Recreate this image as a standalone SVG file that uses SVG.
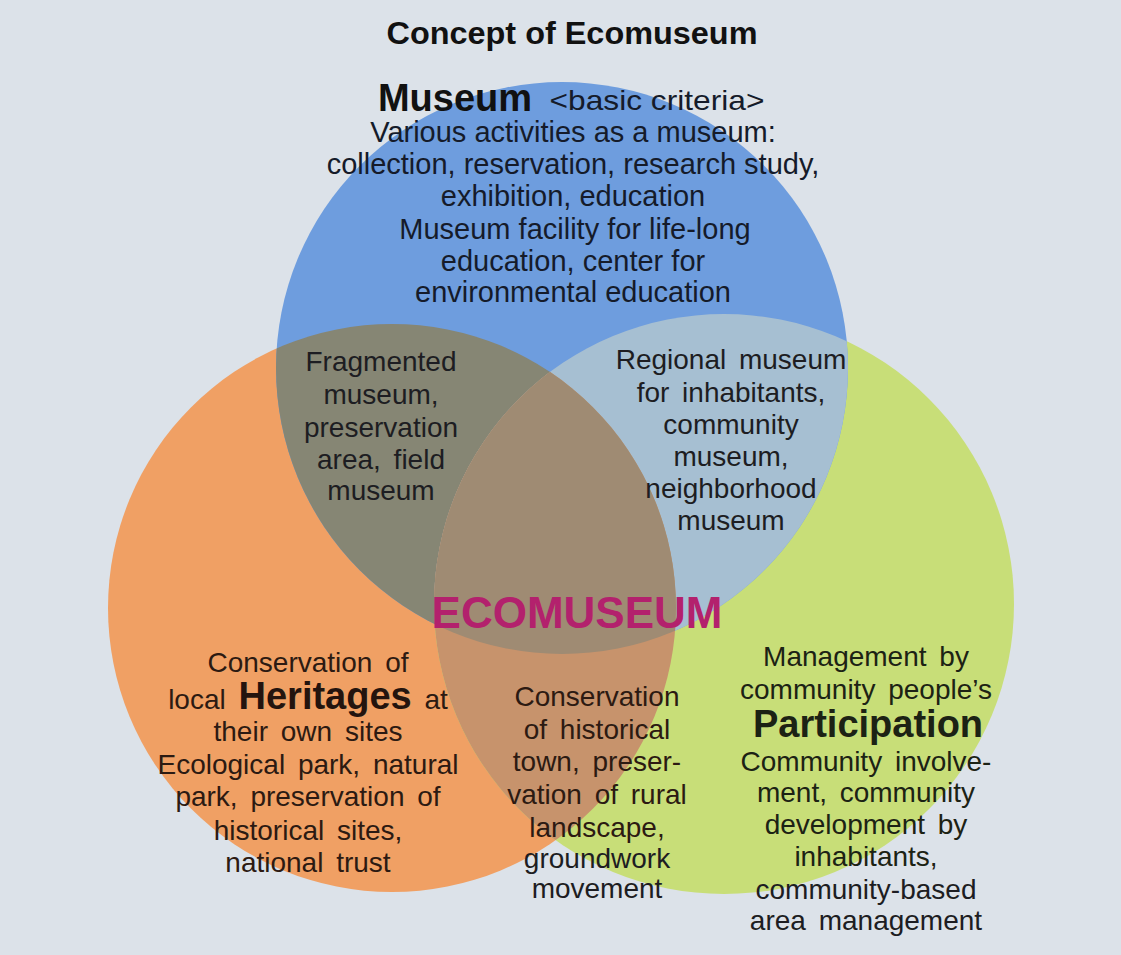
<svg xmlns="http://www.w3.org/2000/svg" width="1121" height="955" viewBox="0 0 1121 955">
<style>
.t{font-family:"Liberation Sans",Arial,Helvetica,sans-serif;text-anchor:middle;fill:#1d1d22}
.m{font-size:29px;fill:#151b2a}
.b{font-size:28px;word-spacing:5px}
.bo{fill:#2c1a12}
.gr{fill:#1c2214}
.big{font-weight:bold;font-size:38px}
.eco{font-size:44px;font-weight:bold;fill:#b3216d}
.title{font-size:31px;font-weight:bold;fill:#111}
</style>
<defs>
<clipPath id="cO"><circle cx="392" cy="608" r="284"/></clipPath>
<clipPath id="cG"><circle cx="724" cy="604" r="290"/></clipPath>
</defs>
<rect width="1121" height="955" fill="#dce2e9"/>
<text class="t title" x="572" y="44" textLength="371" lengthAdjust="spacingAndGlyphs">Concept of Ecomuseum</text>
<g id="heritage-circle"><circle cx="392" cy="608" r="284" fill="#f0a064"/></g>
<g id="participation-circle"><circle cx="724" cy="604" r="290" fill="#c8de78"/></g>
<g id="museum-circle"><circle cx="562" cy="368" r="286" fill="#6e9dde"/></g>
<g id="overlap-museum-heritage"><circle cx="562" cy="368" r="286" fill="#868674" clip-path="url(#cO)"/></g>
<g id="overlap-museum-participation"><circle cx="562" cy="368" r="286" fill="#a6bfd2" clip-path="url(#cG)"/></g>
<g id="overlap-heritage-participation"><circle cx="392" cy="608" r="284" fill="#c7936c" clip-path="url(#cG)"/></g>
<g id="overlap-all" clip-path="url(#cG)"><circle cx="562" cy="368" r="286" fill="#9f8b73" clip-path="url(#cO)"/></g>
<g id="connectors"></g>
<g id="museum-text">
<text class="t big" x="455" y="111" style="fill:#111">Museum</text>
<text class="t m" x="657" y="110" style="font-size:28px" textLength="215" lengthAdjust="spacingAndGlyphs">&lt;basic criteria&gt;</text>
<text class="t m" x="573" y="142">Various activities as a museum:</text>
<text class="t m" x="573" y="174">collection, reservation, research study,</text>
<text class="t m" x="573" y="206">exhibition, education</text>
<text class="t m" x="575" y="239">Museum facility for life-long</text>
<text class="t m" x="573" y="271">education, center for</text>
<text class="t m" x="573" y="302">environmental education</text>
</g>
<g id="fragmented-text">
<text class="t b" x="381" y="371">Fragmented</text>
<text class="t b" x="381" y="404">museum,</text>
<text class="t b" x="381" y="437">preservation</text>
<text class="t b" x="381" y="469">area, field</text>
<text class="t b" x="381" y="500">museum</text>
</g>
<g id="regional-text">
<text class="t b" x="731" y="369">Regional museum</text>
<text class="t b" x="731" y="402">for inhabitants,</text>
<text class="t b" x="731" y="434">community</text>
<text class="t b" x="731" y="466">museum,</text>
<text class="t b" x="731" y="498">neighborhood</text>
<text class="t b" x="731" y="530">museum</text>
</g>
<g id="ecomuseum">
<text class="t eco" x="577" y="628">ECOMUSEUM</text>
</g>
<g id="heritage-text">
<text class="t b bo" x="308" y="672">Conservation of</text>
<text class="t b bo" x="308" y="709">local <tspan class="big" style="fill:#24140e">Heritages</tspan> at</text>
<text class="t b bo" x="308" y="741">their own sites</text>
<text class="t b bo" x="308" y="774">Ecological park, natural</text>
<text class="t b bo" x="308" y="806">park, preservation of</text>
<text class="t b bo" x="308" y="840">historical sites,</text>
<text class="t b bo" x="308" y="872">national trust</text>
</g>
<g id="town-text">
<text class="t b bo" x="597" y="706">Conservation</text>
<text class="t b bo" x="597" y="739">of historical</text>
<text class="t b bo" x="597" y="771">town, preser-</text>
<text class="t b bo" x="597" y="804">vation of rural</text>
<text class="t b bo" x="597" y="837">landscape,</text>
<text class="t b" x="597" y="868">groundwork</text>
<text class="t b" x="597" y="898">movement</text>
</g>
<g id="participation-text">
<text class="t b gr" x="866" y="666">Management by</text>
<text class="t b gr" x="866" y="699">community people’s</text>
<text class="t big gr" x="868" y="737">Participation</text>
<text class="t b gr" x="866" y="771">Community involve-</text>
<text class="t b gr" x="866" y="802">ment, community</text>
<text class="t b gr" x="866" y="834">development by</text>
<text class="t b gr" x="866" y="866">inhabitants,</text>
<text class="t b" x="866" y="899">community-based</text>
<text class="t b" x="866" y="930">area management</text>
</g>
</svg>
